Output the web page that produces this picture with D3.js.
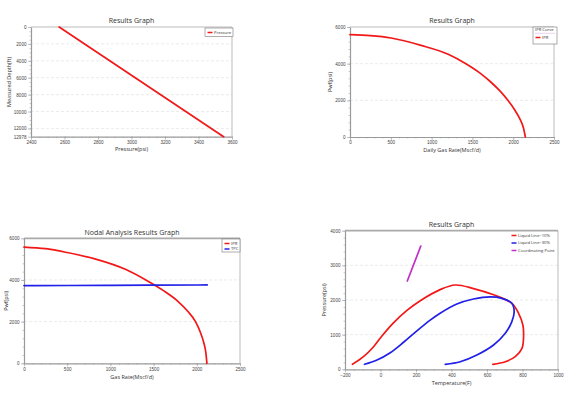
<!DOCTYPE html>
<html>
<head>
<meta charset="utf-8">
<script src="https://cdn.jsdelivr.net/npm/d3@7"></script>
<style>
  body { margin: 0; background: #fff; }
  svg { font-family: "Open Sans", "DejaVu Sans", sans-serif; }
  .title { font-size: 7px; fill: #333; }
  .axislabel { font-size: 5.5px; fill: #333; }
  .tick text { font-size: 4.6px; fill: #444; }
  .legend text { font-size: 4.2px; fill: #333; }
</style>
</head>
<body>
<div id="charts"></div>
<script>
// panel 1: pressure vs depth
var depthPressure = [2568, 3550];
var depthValues = [0, 12978];
var depthTicks = [0, 2000, 4000, 6000, 8000, 10000, 12000, 12978];

// panel 2: ipr curve
var iprRate = [0, 250, 504, 870, 1210, 1420, 1590, 1725, 1840, 1935, 2015, 2080, 2125, 2149];
var iprPwf = [5585, 5530, 5400, 5000, 4500, 4000, 3500, 3000, 2500, 2000, 1500, 1000, 500, 0];

// panel 3: nodal analysis
var nodalIprRate = [0, 250, 498, 830, 1180, 1410, 1610, 1775, 1895, 1985, 2040, 2080, 2105, 2117];
var nodalIprPwf = [5580, 5500, 5317, 5000, 4500, 4000, 3500, 3000, 2500, 2000, 1500, 1000, 500, 0];
var tpcRate = [0, 500, 1000, 1500, 2120];
var tpcPwf = [3730, 3735, 3742, 3750, 3760];

// panel 4: phase envelope
var liq10Temp = [-158, -96, -39, 8, 73, 149, 224, 336, 421, 524, 637, 740, 778, 802, 806, 797, 759, 703, 633];
var liq10Pres = [144, 364, 652, 960, 1340, 1700, 1980, 2300, 2433, 2330, 2150, 1905, 1616, 1279, 941, 606, 364, 219, 144];
var liq30Temp = [-90, -20, 55, 130, 205, 280, 336, 430, 524, 618, 684, 740, 753, 740, 703, 637, 543, 449, 365];
var liq30Pres = [144, 268, 480, 780, 1110, 1420, 1620, 1885, 2029, 2090, 2048, 1905, 1664, 1375, 1039, 701, 413, 219, 144];
var coordTemp = [151, 227];
var coordPres = [2548, 3558];

var RED = "#f21818", BLUE = "#2020e8", MAGENTA = "#c030c8", AXIS = "#999";

var svg = d3.select("#charts").append("svg")
  .attr("width", 582).attr("height", 395);

function zip(xs, ys) { return xs.map(function(x, i) { return [x, ys[i]]; }); }

function drawPanel(p) {
  var g = svg.append("g");
  var x = d3.scaleLinear().domain(p.xDomain).range([p.left, p.right]);
  var y = d3.scaleLinear().domain(p.yDomain).range([p.bottom, p.top]);
  if (p.yReversed) y.range([p.top, p.bottom]);

  // dashed grid lines at major y ticks
  g.selectAll(".grid").data(p.yTicks.filter(function(d) { return d != p.yDomain[0] && d != p.yDomain[1]; }))
    .enter().append("line")
    .attr("x1", p.left).attr("x2", p.right)
    .attr("y1", function(d) { return y(d); }).attr("y2", function(d) { return y(d); })
    .attr("stroke", "#ddd").attr("stroke-width", 0.6).attr("stroke-dasharray", "3,2");

  // frame
  g.append("line").attr("x1", p.left).attr("x2", p.right).attr("y1", p.top).attr("y2", p.top)
    .attr("stroke", "#aaa").attr("stroke-width", p.topWidth || 0.8);
  g.append("line").attr("x1", p.right).attr("x2", p.right).attr("y1", p.top).attr("y2", p.bottom)
    .attr("stroke", "#aaa").attr("stroke-width", 0.8);

  // minor ticks
  var xMinor = d3.range(p.xDomain[0], p.xDomain[1] + 1e-9, p.xMinor);
  var yMinor = d3.range(Math.min(p.yDomain[0], p.yDomain[1]), Math.max(p.yDomain[0], p.yDomain[1]) + 1e-9, p.yMinor);
  g.append("g").attr("transform", "translate(0," + p.bottom + ")")
    .call(d3.axisBottom(x).tickValues(xMinor).tickSize(1.5).tickFormat(""))
    .call(function(a) { a.select(".domain").remove(); a.selectAll("line").attr("stroke", AXIS).attr("stroke-width", 0.5); });
  g.append("g").attr("transform", "translate(" + p.left + ",0)")
    .call(d3.axisLeft(y).tickValues(yMinor).tickSize(1.5).tickFormat(""))
    .call(function(a) { a.select(".domain").remove(); a.selectAll("line").attr("stroke", AXIS).attr("stroke-width", 0.5); });

  // major axes
  g.append("g").attr("transform", "translate(0," + p.bottom + ")")
    .call(d3.axisBottom(x).tickValues(p.xTicks).tickSize(3).tickPadding(1).tickSizeOuter(0).tickFormat(d3.format("d")))
    .call(function(a) { a.select(".domain").attr("stroke", AXIS).attr("stroke-width", 1.2); a.selectAll("line").attr("stroke", AXIS).attr("stroke-width", 0.6); });
  g.append("g").attr("transform", "translate(" + p.left + ",0)")
    .call(d3.axisLeft(y).tickValues(p.yTicks).tickSize(3).tickPadding(1.5).tickSizeOuter(0).tickFormat(d3.format("d")))
    .call(function(a) { a.select(".domain").attr("stroke", AXIS).attr("stroke-width", 1.2); a.selectAll("line").attr("stroke", AXIS).attr("stroke-width", 0.6); });

  // series
  p.series.forEach(function(s) {
    var curve = s.xs.length <= 2 ? d3.curveLinear : (s.monotone ? d3.curveMonotoneX : d3.curveCatmullRom.alpha(0.5));
    g.append("path").datum(zip(s.xs, s.ys))
      .attr("fill", "none").attr("stroke", s.color).attr("stroke-width", 1.7)
      .attr("stroke-linecap", "round")
      .attr("d", d3.line().x(function(d) { return x(d[0]); }).y(function(d) { return y(d[1]); }).curve(curve));
  });

  // titles
  var cx = (p.left + p.right) / 2;
  g.append("text").attr("class", "title").attr("x", cx).attr("y", p.titleY)
    .attr("text-anchor", "middle").text(p.title);
  g.append("text").attr("class", "axislabel").attr("x", cx).attr("y", p.xLabelY)
    .attr("text-anchor", "middle").text(p.xLabel);
  g.append("text").attr("class", "axislabel")
    .attr("transform", "translate(" + p.yLabelX + "," + ((p.top + p.bottom) / 2) + ")rotate(-90)")
    .attr("text-anchor", "middle").attr("dy", "0.35em").text(p.yLabel);

  // legend
  var L = p.legend;
  var lg = g.append("g").attr("class", "legend").attr("transform", "translate(" + L.x + "," + L.y + ")");
  if (L.box) {
    lg.append("rect").attr("x", 0).attr("y", 0).attr("width", L.w).attr("height", L.h)
      .attr("fill", "#fff").attr("stroke", "#777").attr("stroke-width", 0.6);
  }
  var y0 = 4.5;
  if (L.header) {
    lg.append("text").attr("x", 2).attr("y", 4.3).text(L.header);
    lg.append("line").attr("x1", 2).attr("x2", L.w - 2).attr("y1", 6.3).attr("y2", 6.3)
      .attr("stroke", "#d8a0e0").attr("stroke-width", 0.5);
    y0 = 10.5;
  }
  L.items.forEach(function(it, i) {
    var yy = y0 + i * L.step;
    lg.append("line").attr("x1", 2.5).attr("x2", 7.5).attr("y1", yy).attr("y2", yy)
      .attr("stroke", it.color).attr("stroke-width", 1.5);
    lg.append("text").attr("x", 9).attr("y", yy).attr("dy", "0.35em").text(it.label);
  });
}

drawPanel({
  left: 31, right: 232, top: 27, bottom: 136.7,
  xDomain: [2400, 3600], yDomain: [0, 12978], yReversed: true,
  xTicks: [2400, 2600, 2800, 3000, 3200, 3400, 3600], yTicks: depthTicks,
  xMinor: 50, yMinor: 500,
  title: "Results Graph", titleY: 23, xLabel: "Pressure(psi)", xLabelY: 151,
  yLabel: "Measured Depth(ft)", yLabelX: 9,
  series: [{xs: depthPressure, ys: depthValues, color: RED}],
  legend: {x: 205, y: 28, w: 28, h: 8.5, box: true, step: 6, items: [{label: "Pressure", color: RED}]}
});

drawPanel({
  left: 350, right: 554, top: 27, bottom: 137,
  xDomain: [0, 2500], yDomain: [0, 6000],
  xTicks: [0, 500, 1000, 1500, 2000, 2500], yTicks: [0, 2000, 4000, 6000],
  xMinor: 100, yMinor: 400,
  title: "Results Graph", titleY: 23, xLabel: "Daily Gas Rate(Mscf/d)", xLabelY: 152,
  yLabel: "Pwf(psi)", yLabelX: 330,
  series: [{xs: iprRate, ys: iprPwf, color: RED, monotone: true}],
  legend: {x: 533, y: 27, w: 24, h: 17, box: true, header: "IPR Curve", step: 6, items: [{label: "IPR", color: RED}]}
});

drawPanel({
  left: 24, right: 240, top: 238.3, bottom: 363.3, topWidth: 1.8,
  xDomain: [0, 2500], yDomain: [0, 6000],
  xTicks: [0, 500, 1000, 1500, 2000, 2500], yTicks: [0, 2000, 4000, 6000],
  xMinor: 100, yMinor: 400,
  title: "Nodal Analysis Results Graph", titleY: 235, xLabel: "Gas Rate(Mscf/d)", xLabelY: 378.5,
  yLabel: "Pwf(psi)", yLabelX: 6,
  series: [{xs: nodalIprRate, ys: nodalIprPwf, color: RED, monotone: true}, {xs: tpcRate, ys: tpcPwf, color: BLUE, monotone: true}],
  legend: {x: 222, y: 239, w: 18, h: 13, box: true, step: 5.5, items: [{label: "IPR", color: RED}, {label: "TPC", color: BLUE}]}
});

drawPanel({
  left: 345, right: 558, top: 230.7, bottom: 369.3, topWidth: 1.8,
  xDomain: [-200, 1000], yDomain: [0, 4000],
  xTicks: [-200, 0, 200, 400, 600, 800, 1000], yTicks: [0, 1000, 2000, 3000, 4000],
  xMinor: 50, yMinor: 200,
  title: "Results Graph", titleY: 227, xLabel: "Temperature(F)", xLabelY: 385,
  yLabel: "Pressure(psi)", yLabelX: 324,
  series: [{xs: liq10Temp, ys: liq10Pres, color: RED}, {xs: liq30Temp, ys: liq30Pres, color: BLUE},
           {xs: coordTemp, ys: coordPres, color: MAGENTA}],
  legend: {x: 509, y: 231, w: 0, h: 0, box: false, step: 7.5,
    items: [{label: "Liquid Line=10%", color: RED}, {label: "Liquid Line=30%", color: BLUE}, {label: "Coordinating Point", color: MAGENTA}]}
});
</script>
</body>
</html>
